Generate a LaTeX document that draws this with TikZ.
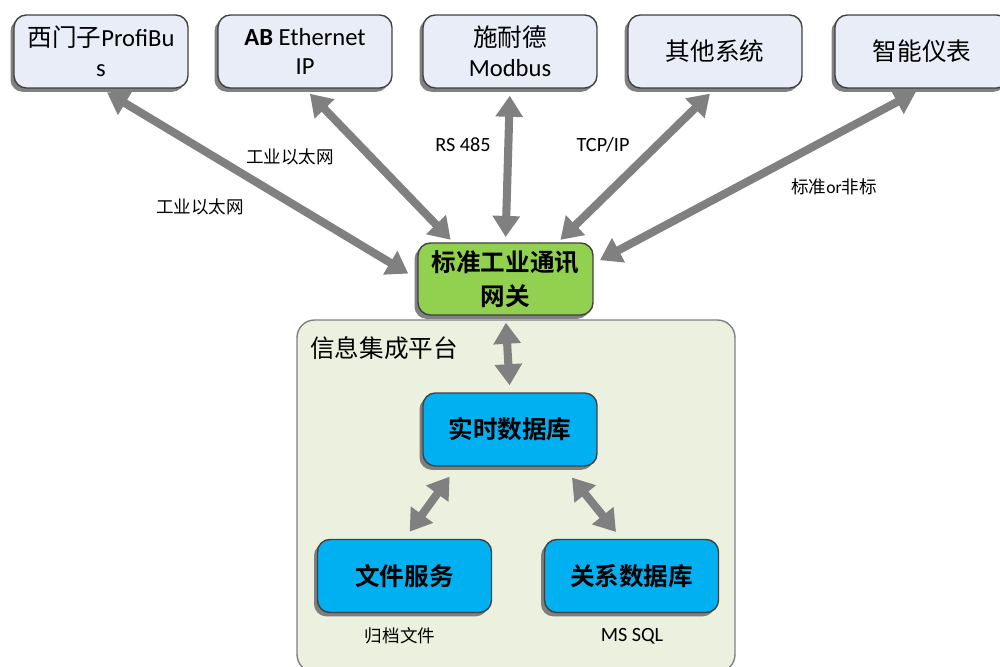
\documentclass[tikz,border=0pt]{standalone}
\usepackage{fontspec}
\setmainfont{Carlito}
\newfontfamily\cjk{Noto Sans CJK SC}[BoldFont={Noto Sans CJK SC Bold}]
\usetikzlibrary{arrows.meta,shadows}
\definecolor{srcfill}{HTML}{E8EDF7}
\definecolor{gwfill}{HTML}{92D050}
\definecolor{platfill}{HTML}{EBF1DE}
\definecolor{dbfill}{HTML}{00B0F0}
\definecolor{linkgray}{HTML}{808080}
\tikzset{
  boxshadow/.style={drop shadow={shadow xshift=-2pt,shadow yshift=-2.2pt,fill=black!55,opacity=0.9}},
  src/.style={draw=black!75,line width=0.8pt,fill=srcfill,rounded corners=7pt,
    minimum width=3.48cm,minimum height=1.46cm,align=center,
    font=\fontsize{14}{17}\selectfont,boxshadow},
  gate/.style={src,fill=gwfill,minimum width=3.5cm,minimum height=1.44cm,
    font=\fontsize{14}{19}\selectfont\bfseries},
  db/.style={src,fill=dbfill,font=\fontsize{14}{17}\selectfont\bfseries},
  tag/.style={font=\fontsize{10}{12}\selectfont},
  link/.style={draw=linkgray,line width=4.6pt,
    {Triangle[length=12pt,width=15pt]}-{Triangle[length=12pt,width=15pt]}}
}
\begin{document}
\begin{tikzpicture}[x=0.02cm,y=-0.02cm]
      \useasboundingbox (0,0) rectangle (1000,666);
      % platform
      \draw[draw=black!50,line width=0.8pt,fill=platfill,rounded corners=10pt]
        (297,320) rectangle (735,672);
      \node[anchor=west,font=\fontsize{14}{17}\selectfont\cjk] (plat) at (304,348) {信息集成平台};

      \draw
        (101,51.5) node[src] (s1){{\cjk 西门子}ProfiBu\\s}
        (305,51.5) node[src] (s2){\textbf{AB} Ethernet\\IP}
        (510,51.5) node[src] (s3){{\cjk 施耐德}\\Modbus}
        (715,51.5) node[src] (s4){\cjk 其他系统}
        (922,51.5) node[src] (s5){\cjk 智能仪表}
        (505.5,279) node[gate] (gw){{\cjk 标准工业通讯}\\{\cjk 网关}}
        (510,429.5) node[db] (rt){\cjk 实时数据库}
        (404.5,576) node[db] (fs){\cjk 文件服务}
        (631.5,576) node[db] (rd){\cjk 关系数据库};

      \begin{scope}[link]
        \draw[shorten <=4pt,shorten >=6pt] (s1.south) to (gw.west);
        \draw[shorten <=4pt,shorten >=2pt] (s2.south) to (gw.145);
        \draw[shorten <=4pt,shorten >=3pt] (s3.south) to (gw.north);
        \draw[shorten <=4pt,shorten >=2pt] (s4.south) to (gw.35);
        \draw[shorten <=4pt,shorten >=4pt] (s5.south) to (gw.10);
        \draw[shorten <=4pt,shorten >=4pt] (gw.south) to (rt.north);
        \draw[shorten <=7pt,shorten >=5pt] (rt.215) to (fs.north);
        \draw[shorten <=8pt,shorten >=5pt] (rt.325) to (rd.105);
      \end{scope}

      \node[tag] (l1) at (200,207) {\cjk 工业以太网};
      \node[tag] (l2) at (290,157) {\cjk 工业以太网};
      \node[font=\fontsize{11.5}{13}\selectfont] (l3) at (463,145) {RS 485};
      \node[font=\fontsize{11.5}{13}\selectfont] (l4) at (603,145) {TCP/IP};
      \node[tag] (l5) at (834,187) {{\cjk 标准}or{\cjk 非标}};
      \node[tag] (l6) at (400,636) {\cjk 归档文件};
      \node[font=\fontsize{11.5}{13}\selectfont] (l7) at (632,636) {MS SQL};
    \end{tikzpicture}
\end{document}
